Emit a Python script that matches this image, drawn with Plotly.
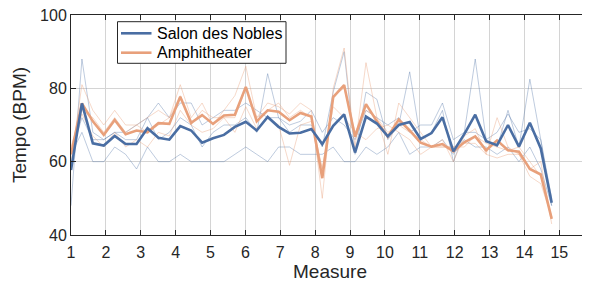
import plotly.graph_objects as go

# ---- data ----
n_points = 45
measure_step = 0.3132
measures = [1 + i * measure_step for i in range(n_points)]

salon_mean = [57.7, 75.9, 65.0, 64.4, 67.0, 64.8, 64.8, 69.1, 66.5, 66.0,
              69.7, 68.5, 65.2, 66.4, 67.3, 69.5, 70.9, 68.5, 72.2, 69.5,
              67.7, 67.9, 68.9, 64.8, 69.8, 72.9, 62.5, 72.3, 70.4, 66.9,
              70.0, 70.8, 66.2, 67.8, 72.1, 62.8, 67.5, 72.8, 65.6, 64.5,
              70.0, 64.1, 70.6, 63.6, 48.8]

amphi_mean = [62.0, 75.9, 71.0, 67.3, 71.4, 67.5, 68.5, 68.0, 70.5, 70.3,
              77.7, 70.6, 72.7, 70.3, 72.6, 72.8, 80.4, 71.0, 74.0, 73.6,
              71.3, 73.3, 72.3, 55.5, 77.6, 80.9, 66.8, 75.7, 71.0, 66.8,
              71.5, 68.5, 65.2, 64.1, 64.8, 62.8, 65.3, 66.9, 63.1, 65.8,
              63.1, 62.7, 58.0, 56.5, 44.4]

salon_run_a = [48, 88, 68, 66, 68, 66, 66, 72, 66, 68, 72, 70, 64, 68, 70,
               70, 72, 68, 84, 72, 68, 70, 70, 64, 79, 90, 62, 79, 77, 66,
               70, 84.5, 66, 68, 74, 60, 68, 88, 66, 64, 74, 64, 82.5, 66, 48]
salon_run_b = [62, 72, 66, 66, 68, 68, 70, 72, 76, 72, 76, 76, 70, 72, 74,
               74, 76, 74, 72, 72, 70, 71, 74, 68, 72, 70, 66, 74, 72, 70,
               72, 68, 70, 70, 76, 66, 68, 68, 66, 68, 73, 68, 69, 66, 50]
salon_run_c = [62, 68, 60, 60, 64, 62, 58, 64, 60, 60, 62, 60, 60, 60, 60,
               62, 64, 62, 60, 64, 64, 62, 62, 62, 64, 60, 60, 64, 62, 64,
               68, 62, 64, 64, 66, 62, 66, 64, 64, 62, 64, 60, 64, 58, 48]

amphi_run_a = [60, 81, 74, 70, 74, 70, 70, 72, 74, 72, 81, 72, 76, 70, 74,
               78, 86, 72, 76, 75, 73, 76, 74, 50, 80, 91, 64, 87, 72, 62,
               76, 72, 68, 64, 66, 60, 67, 69, 62, 72, 64, 62, 58, 60, 43]
amphi_run_b = [64, 74, 72, 68, 72, 68, 70, 68, 70, 72, 78, 70, 74, 72, 72,
               72, 80, 72, 74, 76, 72, 74, 72, 58, 78, 80, 68, 74, 72, 68,
               70, 68, 66, 64, 64, 64, 64, 67, 65, 64, 63, 64, 60, 56, 45]
amphi_run_c = [62, 73, 67, 64, 68, 64, 66, 64, 68, 67, 74, 70, 68, 69, 72,
               68, 75, 69, 72, 70, 59, 70, 71, 58, 75, 72, 68, 66, 69, 70,
               68, 66, 62, 64, 64, 64, 65, 65, 62, 61, 62, 62, 56, 54, 45]

x_ticks = list(range(1, 16))
y_ticks = [40, 60, 80, 100]
legend_labels = ["Salon des Nobles", "Amphitheater"]

BLUE = "#4a6ea3"
ORANGE = "#e8a07b"
BLUE_THIN = "rgba(74,110,163,0.36)"
ORANGE_THIN = "rgba(232,160,123,0.40)"
FONT = "Liberation Sans, Arial, Helvetica, sans-serif"
AX = "#262626"

# layout geometry (pixels); the page body adds an 8 px offset
OFF = 8
W, H = 590 - OFF, 291 - OFF
L, R, T, B = 71 - OFF, 1, 15 - OFF, 56
PW, PH = W - L - R, H - T - B


def px_x(px):
    # px given in final screenshot coordinates
    return (px - OFF - L) / PW


def px_y(py):
    return 1 - (py - OFF - T) / PH


fig = go.Figure()

for run in (salon_run_a, salon_run_b, salon_run_c):
    fig.add_trace(go.Scatter(x=measures, y=run, mode="lines",
                             line=dict(color=BLUE_THIN, width=1),
                             showlegend=False, hoverinfo="skip"))
for run in (amphi_run_a, amphi_run_b, amphi_run_c):
    fig.add_trace(go.Scatter(x=measures, y=run, mode="lines",
                             line=dict(color=ORANGE_THIN, width=1),
                             showlegend=False, hoverinfo="skip"))

fig.add_trace(go.Scatter(x=measures, y=amphi_mean, mode="lines",
                         name=legend_labels[1], showlegend=False,
                         line=dict(color=ORANGE, width=2.6)))
fig.add_trace(go.Scatter(x=measures, y=salon_mean, mode="lines",
                         name=legend_labels[0], showlegend=False,
                         line=dict(color=BLUE, width=2.6)))

axis_common = dict(
    showline=True, linecolor=AX, linewidth=1, mirror="ticks",
    ticks="inside", ticklen=5, tickcolor=AX, tickwidth=1,
    showgrid=True, gridcolor="#d4d4d4", gridwidth=1,
    zeroline=False, tickfont=dict(family=FONT, size=16, color=AX),
    automargin=False, ticklabeloverflow="allow",
)

fig.update_xaxes(range=[1, 15.85], tickvals=x_ticks, ticklabelstandoff=3,
                 title=dict(text="Measure", font=dict(family=FONT, size=19, color=AX),
                            standoff=3),
                 **axis_common)
fig.update_yaxes(range=[40, 100], tickvals=y_ticks,
                 title=dict(text="Tempo (BPM)", font=dict(family=FONT, size=19, color=AX),
                            standoff=8),
                 **axis_common)

# custom legend box (MATLAB style)
shapes = [dict(type="rect", xref="paper", yref="paper",
               x0=px_x(117.5), x1=px_x(286), y0=px_y(63.3), y1=px_y(21.7),
               line=dict(color=AX, width=1), fillcolor="white", layer="above")]
annotations = []
for label, color, cy in ((legend_labels[0], BLUE, 33.3), (legend_labels[1], ORANGE, 52.7)):
    shapes.append(dict(type="line", xref="paper", yref="paper",
                       x0=px_x(121), x1=px_x(151.5), y0=px_y(cy), y1=px_y(cy),
                       line=dict(color=color, width=2.6), layer="above"))
    annotations.append(dict(text=label, xref="paper", yref="paper",
                            x=px_x(154.5), y=px_y(cy), xanchor="left", yanchor="middle",
                            showarrow=False,
                            font=dict(family=FONT, size=16, color="black")))

fig.update_layout(
    width=W, height=H,
    margin=dict(l=L, r=R, t=T, b=B),
    paper_bgcolor="white", plot_bgcolor="white",
    font=dict(family=FONT, color=AX),
    shapes=shapes, annotations=annotations,
    showlegend=False,
)

fig.write_html("out.html")
